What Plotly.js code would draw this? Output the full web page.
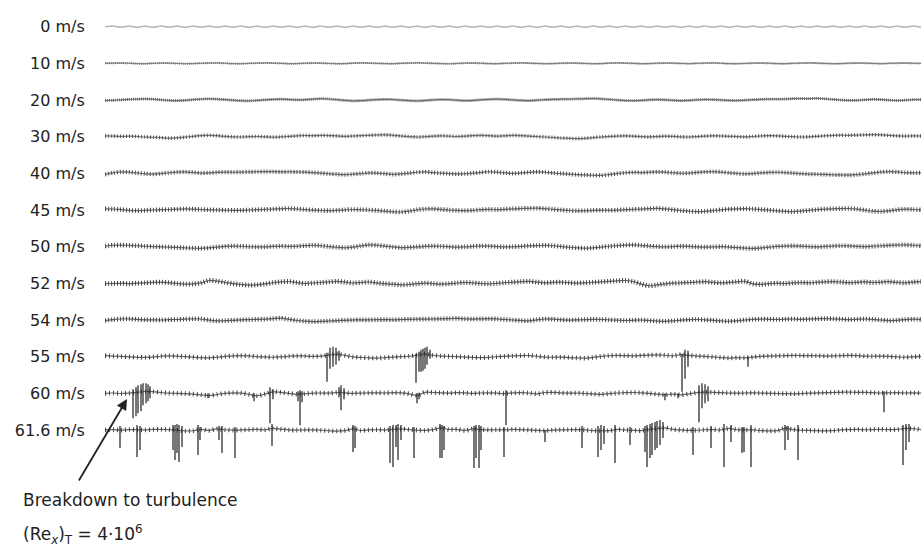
<!DOCTYPE html>
<html>
<head>
<meta charset="utf-8">
<script src="https://cdn.plot.ly/plotly-3.0.1.min.js"></script>
<style>
  html, body { margin: 0; padding: 0; background: #fff; }
  #chart { width: 921px; height: 549px; }
</style>
</head>
<body>
<div id="chart"></div>
<script>
// Hot-wire oscillograms of boundary-layer velocity fluctuations at increasing
// free-stream speeds. Each row: slow baseline wander sampled every 8 time units,
// the fast oscillation is rendered as a hatched stroke, turbulent bursts as spikes.

const speedLabels = ["0 m/s", "10 m/s", "20 m/s", "30 m/s", "40 m/s", "45 m/s",
                     "50 m/s", "52 m/s", "54 m/s", "55 m/s", "60 m/s", "61.6 m/s"];

const signal0 = [
  0.0,0.6,-0.5,0.6,-0.6,0.5,-0.6,0.7,-0.5,0.6,
  -0.6,0.5,-0.5,0.6,-0.6,0.6,-0.5,0.7,-0.6,0.5,
  -0.6,0.6,-0.5,0.6,-0.6,0.5,-0.6,0.7,-0.5,0.6,
  -0.6,0.5,-0.5,0.6,-0.6,0.6,-0.5,0.6,-0.6,0.5,
  -0.6,0.7,-0.5,0.6,-0.6,0.5,-0.5,0.6,-0.6,0.6,
  -0.5,0.7,-0.6,0.5,-0.6,0.6,-0.5,0.6,-0.6,0.5,
  -0.6,0.7,-0.5,0.6,-0.6,0.5,-0.5,0.6,-0.6,0.6,
  -0.5,0.6,-0.6,0.5,-0.6,0.7,-0.5,0.6,-0.6,0.5,
  -0.5,0.6,-0.6,0.6,-0.5,0.7,-0.6,0.5,-0.6,0.6,
  -0.5,0.6,-0.6,0.5,-0.6,0.7,-0.5,0.6,-0.6,0.5,
  -0.5,0.6,-0.6];

const signal10 = [
  0,0.2,0.3,0.1,-0.2,-0.3,0,0.3,0.2,-0.1,
  -0.3,-0.2,0.1,0.3,0.4,0.1,-0.2,-0.3,0,0.2,
  0.4,0.3,0,-0.3,-0.2,0.1,0.3,0.2,-0.1,-0.3,
  -0.2,0.2,0.4,0.3,0,-0.2,-0.3,0,0.3,0.5,
  0.3,0,-0.2,-0.4,-0.1,0.2,0.3,0.1,-0.2,-0.3,
  0,0.3,0.4,0.2,-0.1,-0.3,-0.2,0.1,0.3,0.2,
  -0.1,-0.3,-0.2,0.2,0.4,0.3,0,-0.3,-0.2,0.1,
  0.3,0.2,-0.1,-0.3,0,0.3,0.4,0.1,-0.2,-0.3,
  -0.1,0.2,0.3,0.1,-0.2,-0.3,0,0.3,0.4,0.2,
  -0.1,-0.3,-0.2,0.1,0.3,0.2,-0.1,-0.3,0,0.2,
  0.3,0.1,-0.1];

const signal20 = [
  -0.5,-0.3,0.2,0.6,0.9,1.1,0.8,0.2,-0.4,-0.6,
  -0.3,0.3,0.9,1.2,0.9,0.4,-0.2,-0.7,-0.8,-0.4,
  0.2,0.6,0.8,0.5,0.1,0.3,0.9,1.3,1.0,0.3,
  -0.4,-0.8,-0.6,-0.1,0.4,0.7,0.5,-0.1,-0.6,-0.9,
  -0.5,0.1,0.5,0.3,-0.2,-0.6,-0.4,0.2,0.7,0.9,
  0.6,0.1,-0.4,-0.6,-0.2,0.3,0.6,0.8,0.9,1.1,
  1.3,1.5,1.2,0.6,0.0,-0.5,-0.7,-0.4,0.1,0.4,
  0.2,-0.3,-0.6,-0.3,0.2,0.5,0.4,0.0,-0.4,-0.5,
  -0.2,0.3,0.7,0.9,0.8,1.0,1.3,1.5,1.4,1.6,
  1.2,0.6,0.0,-0.4,-0.3,0.2,0.6,0.4,-0.1,-0.5,
  -0.2,0.3,0.5];

const signal30 = [
  0.8,0.6,0.3,0.5,0.2,-0.3,-0.6,-1.0,-1.5,-1.2,
  -0.5,0.4,1.1,1.4,1.0,0.3,-0.2,-0.3,0.0,0.2,
  -0.1,-0.4,-0.2,0.3,0.9,1.2,1.0,1.3,1.1,0.8,
  0.4,0.7,1.0,1.4,1.7,1.9,1.4,0.7,0.1,-0.3,
  0.0,0.5,0.9,0.6,0.2,0.5,1.1,1.3,1.0,0.6,
  0.9,1.3,1.1,0.6,0.2,-0.3,-0.8,-1.3,-1.6,-1.9,
  -1.7,-1.0,-0.3,0.2,0.6,0.8,0.5,0.1,-0.2,0.1,
  0.5,0.3,-0.1,-0.3,0.1,0.6,0.9,0.7,0.4,0.1,
  -0.2,0.2,0.7,1.0,0.8,0.4,0.0,-0.3,-0.1,0.4,
  0.9,1.3,1.5,1.4,1.6,1.8,2.0,1.8,1.3,0.9,
  0.6,0.8,0.7];

const signal40 = [
  -1.0,0.5,1.5,1.2,0.4,-0.3,-0.8,-0.2,0.6,1.2,
  1.4,0.9,0.3,0.5,1.0,1.3,1.1,1.2,1.5,1.6,
  1.8,1.7,1.5,1.6,1.4,1.2,0.8,0.2,-0.4,-0.9,
  -1.2,-0.8,-0.2,0.5,0.3,-0.3,-1.0,-0.6,0.3,1.1,
  1.4,0.8,0.2,-0.2,-0.6,-0.4,0.2,0.9,1.6,1.2,
  0.5,0.0,0.4,1.0,1.5,1.1,0.4,-0.2,-0.8,-1.3,
  -1.6,-1.9,-2.0,-1.2,-0.2,0.6,1.0,0.8,1.1,1.4,
  1.2,0.6,0.1,0.3,0.9,1.4,1.7,1.3,0.5,-0.1,
  -0.5,-0.2,0.4,0.9,1.1,0.8,0.3,-0.3,-0.7,-0.9,
  -1.1,-1.4,-1.6,-1.8,-1.3,-0.5,0.4,1.3,1.8,1.4,
  0.8,0.5,0.6];

const signal45 = [
  1.2,1.0,0.4,-0.3,-0.6,-0.4,0.0,0.3,0.5,0.8,
  1.1,0.9,0.5,0.2,0.0,-0.2,-0.4,-0.3,0.0,0.3,
  0.6,0.9,1.2,1.5,1.0,0.4,-0.1,-0.5,-0.6,-0.3,
  0.2,0.5,0.3,0.0,-0.5,-1.1,-1.7,-2.0,-1.2,0.2,
  1.0,1.2,0.6,0.0,-0.4,-0.6,-0.3,0.3,0.6,0.4,
  0.7,1.2,1.5,1.7,1.8,1.4,0.7,0.1,-0.5,-0.8,
  -0.7,-0.4,-0.2,-0.3,-0.1,0.3,0.6,0.9,1.3,1.6,
  1.1,0.3,-0.5,-1.2,-1.6,-1.3,-0.6,0.2,0.8,1.1,
  1.3,1.0,0.4,-0.2,-0.8,-1.3,-1.6,-1.1,-0.3,0.4,
  0.9,1.2,1.4,1.5,0.9,-0.2,-1.2,-1.5,-0.8,0.2,
  0.8,0.5,0.1];

const signal50 = [
  0.6,1.4,1.6,1.3,0.9,0.4,0.1,-0.2,-0.5,-0.8,
  -1.2,-1.5,-1.7,-1.2,-0.4,0.3,0.6,0.4,0.0,-0.3,
  -0.2,0.3,0.6,0.2,0.4,1.0,1.4,0.9,0.1,-0.6,
  -1.1,-0.4,0.8,1.8,1.4,0.6,-0.3,-1.0,-0.8,-0.2,
  0.3,0.6,0.4,0.0,-0.5,-0.2,0.3,0.7,0.5,0.1,
  -0.3,-0.1,0.3,0.8,1.1,1.3,0.9,0.2,-0.6,-1.2,
  -1.6,-1.2,-0.4,0.4,1.0,1.5,1.8,1.3,0.6,0.1,
  -0.2,0.1,0.5,0.3,-0.2,-0.5,-0.3,0.1,-0.4,-1.0,
  -1.5,-1.8,-1.3,-0.5,0.2,0.6,0.8,0.5,0.1,-0.2,
  0.2,0.6,0.9,0.7,0.3,0.0,0.4,0.9,1.3,1.6,
  1.8,1.4,0.9];

const signal52 = [
  -0.4,-0.2,0.0,-0.3,0.1,0.4,0.9,1.2,0.6,-0.2,
  -0.8,-0.6,0.4,2.8,2.2,0.9,-0.3,-1.2,-1.8,-1.5,
  -0.6,0.6,1.5,1.8,0.7,-0.2,0.3,0.8,1.4,1.9,
  1.2,0.3,0.8,1.3,0.4,-0.4,-0.9,-1.5,-1.2,-0.4,
  0.2,-0.3,-0.8,-0.4,0.3,0.8,0.5,-0.2,-0.5,0.0,
  0.6,1.2,1.6,2.0,1.2,0.5,0.9,1.1,0.6,0.2,
  0.5,1.0,1.5,2.0,2.5,2.8,1.8,-0.6,-2.4,-1.6,
  -0.6,0.1,0.4,0.8,1.2,1.6,1.0,0.4,0.9,1.5,
  2.0,-0.5,-1.0,-0.4,0.2,-0.2,0.4,0.8,0.5,1.0,
  1.5,1.6,1.3,0.6,1.0,1.4,0.8,1.2,1.6,1.0,
  0.5,1.2,1.6];

const signal54 = [
  -0.6,0.4,1.0,1.2,0.6,0.2,0.1,0.0,0.3,0.5,
  0.8,1.2,1.0,-0.2,-0.9,-0.7,-0.3,0.1,0.4,0.6,
  0.9,1.4,1.8,0.6,-0.5,-1.2,-1.6,-1.4,-1.0,-0.6,
  -0.3,0.0,0.2,0.1,0.3,0.4,0.2,0.5,0.7,0.8,
  0.9,1.0,1.2,1.4,1.6,1.2,0.9,1.1,1.3,1.0,
  0.5,0.0,-0.5,-0.8,0.2,1.0,0.8,0.3,-0.1,0.1,
  0.4,0.6,0.5,0.2,-0.2,-0.5,-0.3,0.0,-0.5,-1.0,
  -1.3,-0.9,-0.2,0.3,0.5,0.2,-0.3,-0.9,-1.3,-0.8,
  0.0,0.6,0.9,0.7,0.5,0.8,1.0,0.6,0.9,1.2,
  1.4,1.2,0.8,0.4,0.7,1.0,0.6,0.0,-0.6,-0.3,
  0.4,0.8,0.5];

const signal55 = [
  1.0,0.6,0.2,-0.2,-0.6,-0.8,-0.3,0.4,0.8,0.5,
  0.0,-0.5,-1.0,-1.2,-0.6,0.2,0.8,1.0,0.7,0.1,
  -0.3,-0.6,-0.2,0.4,0.8,0.6,0.3,0.6,1.5,2.5,
  1.2,-0.3,-0.8,-1.2,-1.4,-1.0,-0.5,0.0,0.4,1.5,
  2.5,1.4,0.6,0.3,0.0,-0.4,-0.8,-1.0,-0.7,-0.1,
  0.3,0.7,1.0,1.1,0.4,-0.4,-0.6,-0.5,-0.9,-1.3,
  -1.5,-0.8,0.2,0.9,1.2,1.0,0.8,1.2,1.5,1.7,
  1.4,0.8,2.0,1.2,0.6,0.3,-0.3,-0.9,-1.4,-1.0,
  -1.2,-0.4,0.3,0.6,0.8,1.0,1.2,1.1,1.0,0.9,
  0.6,0.7,1.0,1.3,1.1,0.6,0.4,0.5,0.2,-0.3,
  -0.6,-0.2,0.3];

const signal60 = [
  0.0,0.3,-0.2,0.2,1.0,1.8,1.6,0.8,0.2,0.0,
  -0.3,-0.8,-1.5,-2.2,-1.2,0.0,0.5,0.2,-1.0,-2.4,
  -0.8,1.4,0.9,0.0,-1.0,-0.4,0.2,0.3,0.1,0.8,
  0.4,0.0,0.2,0.4,0.5,0.3,0.6,0.4,-0.5,-2.0,
  1.0,0.8,0.5,0.2,0.6,0.4,-0.1,0.3,0.5,0.2,
  -0.3,0.5,0.6,0.3,-0.5,0.8,0.9,0.4,0.1,0.3,
  -0.2,-0.6,-1.0,-0.4,0.3,0.6,0.8,0.5,0.0,-0.8,
  -1.5,-0.9,-1.5,-0.5,0.6,1.2,1.0,0.6,0.3,0.1,
  0.3,0.5,0.2,0.0,-0.2,-0.3,-0.5,-0.2,0.1,0.4,
  0.6,0.8,1.0,1.2,0.9,1.0,0.6,0.3,0.5,0.6,
  0.3,0.4,0.2];

const signal616 = [
  0.0,0.3,-0.2,0.4,0.2,0.0,0.5,0.6,0.3,-0.2,
  -1.0,-0.8,0.5,-0.5,1.0,0.2,-0.2,0.0,0.3,0.5,
  0.2,1.5,0.8,0.0,-0.2,0.1,0.0,-0.3,-0.8,-1.1,
  -0.6,1.0,-0.5,0.0,0.2,0.0,0.5,1.0,0.4,-0.2,
  -0.5,0.3,2.0,0.5,0.6,-0.5,1.0,0.4,0.0,0.2,
  0.0,0.5,0.3,0.0,-0.4,-0.6,-0.2,0.1,0.2,0.3,
  0.0,-0.6,-0.8,-0.7,0.5,0.0,-0.4,-0.6,0.5,1.2,
  2.0,0.5,0.0,-0.5,-0.3,0.2,0.4,0.0,1.5,0.2,
  0.0,0.1,-0.6,-0.9,-0.7,1.5,0.4,-0.3,-0.5,-0.7,
  -1.0,-0.6,0.0,0.3,0.5,0.2,0.4,0.6,0.3,0.5,
  1.5,1.2,0.4];

// Turbulent bursts: time position, excursion above and below the trace
const burst55Time = [222,225,228,231,234, 311,314,316,318,320,322,325, 577,580,583, 643];
const burst55Up   = [4,9,10,9,6, 3,5,7,8,9,10,7, 3,7,6, 0];
const burst55Down = [25,12,10,8,4, 26,15,15,14,12,8,2, 35,22,10, 10];

const burst60Time = [28,31,33,36,38,41,43,45, 103, 149, 165,168, 193,195,197, 234,236,239, 312,314, 401, 560, 573, 594,597,600,603, 779];
const burst60Up   = [4,6,8,9,10,10,9,7, 0, 0, 6,4, 2,3,2, 6,8,5, 0,0, 3, 0, 0, 8,10,9,7, 2];
const burst60Down = [25,23,20,18,12,10,8,5, 5, 8, 30,6, 8,32,9, 4,17,6, 10,6, 32, 7, 5, 29,15,10,8, 19];

const burst616Time = [15, 32,35, 68,70,72,74,77, 93,95, 114,117, 130, 167, 248,250,
  285,288,291,293,296, 309, 335,337,339, 369,371,374,376, 399, 440, 477, 493,496,499,
  510, 525, 540,542,545,547,550,552,555,558, 588, 606, 619, 626, 637,639, 646, 680,683,
  693, 798,801,804];
const burst616Up = [4, 5,4, 5,5,6,5,4, 5,3, 4,4, 3, 6, 5,4,
  4,5,5,6,5, 3, 6,5,4, 4,5,5,4, 3, 0, 4, 4,5,4,
  5, 3, 4,5,6,7,8,9,10,8, 3, 4, 6, 5, 3,3, 5, 5,4,
  5, 5,6,6];
const burst616Down = [18, 27,20, 20,30,23,32,17, 25,10, 10,23, 28, 16, 22,18,
  33,37,17,30,10, 28, 28,28,20, 38,28,38,20, 27, 12, 18, 27,20,14,
  33, 15, 22,37,28,25,20,18,15,8, 25, 18, 37, 12, 23,22, 37, 20,10,
  30, 35,20,12];

const signals = [signal0, signal10, signal20, signal30, signal40, signal45,
                 signal50, signal52, signal54, signal55, signal60, signal616];
const bursts = {
  9:  [burst55Time, burst55Up, burst55Down],
  10: [burst60Time, burst60Up, burst60Down],
  11: [burst616Time, burst616Up, burst616Down]
};

// ---- presentation ----
const ROW_TOP = 26.7, ROW_GAP = 36.66, SAMPLE_STEP = 8;
const rowOffset = i => -(ROW_TOP + i * ROW_GAP);

const rowStyle = [
  { line: '#b0b0b0', hatch: '#b4b4b4', w: 1.5, dash: '1px,1px' },
  { line: '#8a8a8a', hatch: '#7a7a7a', w: 2.0, dash: '1px,1px' },
  { line: '#7a7a7a', hatch: '#666666', w: 2.8, dash: '1px,1px' },
  { line: '#777777', hatch: '#555555', w: 3.6, dash: '1px,2px' },
  { line: '#707070', hatch: '#4d4d4d', w: 4.2, dash: '1px,2px' },
  { line: '#6a6a6a', hatch: '#4a4a4a', w: 4.6, dash: '1px,2px' },
  { line: '#6a6a6a', hatch: '#4a4a4a', w: 4.6, dash: '1px,2px' },
  { line: '#666666', hatch: '#444444', w: 4.8, dash: '1px,2px' },
  { line: '#666666', hatch: '#444444', w: 4.6, dash: '1px,2px' },
  { line: '#666666', hatch: '#404040', w: 4.6, dash: '1px,3px' },
  { line: '#666666', hatch: '#404040', w: 4.6, dash: '1px,3px' },
  { line: '#666666', hatch: '#404040', w: 4.6, dash: '1px,3px' }
];

const traces = [];
signals.forEach((sig, i) => {
  const off = rowOffset(i);
  const y = sig.map(v => v + off);
  const st = rowStyle[i];
  traces.push({
    type: 'scatter', mode: 'lines', x0: 0, dx: SAMPLE_STEP, y: y,
    line: { color: st.line, width: 1.2, shape: 'spline', smoothing: 0.9 },
    hoverinfo: 'skip'
  });
  traces.push({
    type: 'scatter', mode: 'lines', x0: 0, dx: SAMPLE_STEP, y: y,
    line: { color: st.hatch, width: st.w, dash: st.dash, shape: 'spline', smoothing: 0.9 },
    hoverinfo: 'skip'
  });
  if (bursts[i]) {
    const [t, up, down] = bursts[i];
    traces.push({
      type: 'scatter', mode: 'markers', x: t, y: t.map(() => off),
      marker: { size: 1, opacity: 0 },
      error_y: { type: 'data', symmetric: false, array: up, arrayminus: down,
                 width: 0, thickness: 1.3, color: '#2e2e2e' },
      hoverinfo: 'skip'
    });
  }
});

const FONT = 'DejaVu Sans, Liberation Sans, Arial, sans-serif';

const layout = {
  width: 921, height: 549,
  margin: { l: 105, r: 0, t: 0, b: 0 },
  paper_bgcolor: '#ffffff', plot_bgcolor: '#ffffff',
  showlegend: false,
  xaxis: { range: [0, 816], visible: false, fixedrange: true },
  yaxis: {
    range: [-549, 0], showgrid: false, zeroline: false, showline: false,
    tickmode: 'array',
    tickvals: speedLabels.map((_, i) => rowOffset(i)),
    ticktext: speedLabels,
    ticks: 'outside', ticklen: 16, tickcolor: 'rgba(0,0,0,0)',
    tickfont: { family: FONT, size: 16, color: '#222' },
    fixedrange: true
  },
  annotations: [
    {
      xref: 'x', yref: 'y', x: 22, y: -399,
      axref: 'pixel', ayref: 'pixel', ax: -49, ay: 83,
      text: '', showarrow: true,
      arrowhead: 2, arrowsize: 1.2, arrowwidth: 1.8, arrowcolor: '#222'
    },
    {
      xref: 'paper', yref: 'paper', x: (21 - 105) / 816, y: 1 - 500 / 549,
      xanchor: 'left', yanchor: 'middle', showarrow: false,
      text: 'Breakdown to turbulence',
      font: { family: FONT, size: 17, color: '#222' }
    },
    {
      xref: 'paper', yref: 'paper', x: (21 - 105) / 816, y: 1 - 534 / 549,
      xanchor: 'left', yanchor: 'middle', showarrow: false,
      text: '(Re<sub><i>x</i></sub>)<sub>T</sub> = 4·10<sup>6</sup>',
      font: { family: FONT, size: 17, color: '#222' }
    }
  ]
};

Plotly.newPlot('chart', traces, layout, { staticPlot: true, displayModeBar: false });
</script>
</body>
</html>
